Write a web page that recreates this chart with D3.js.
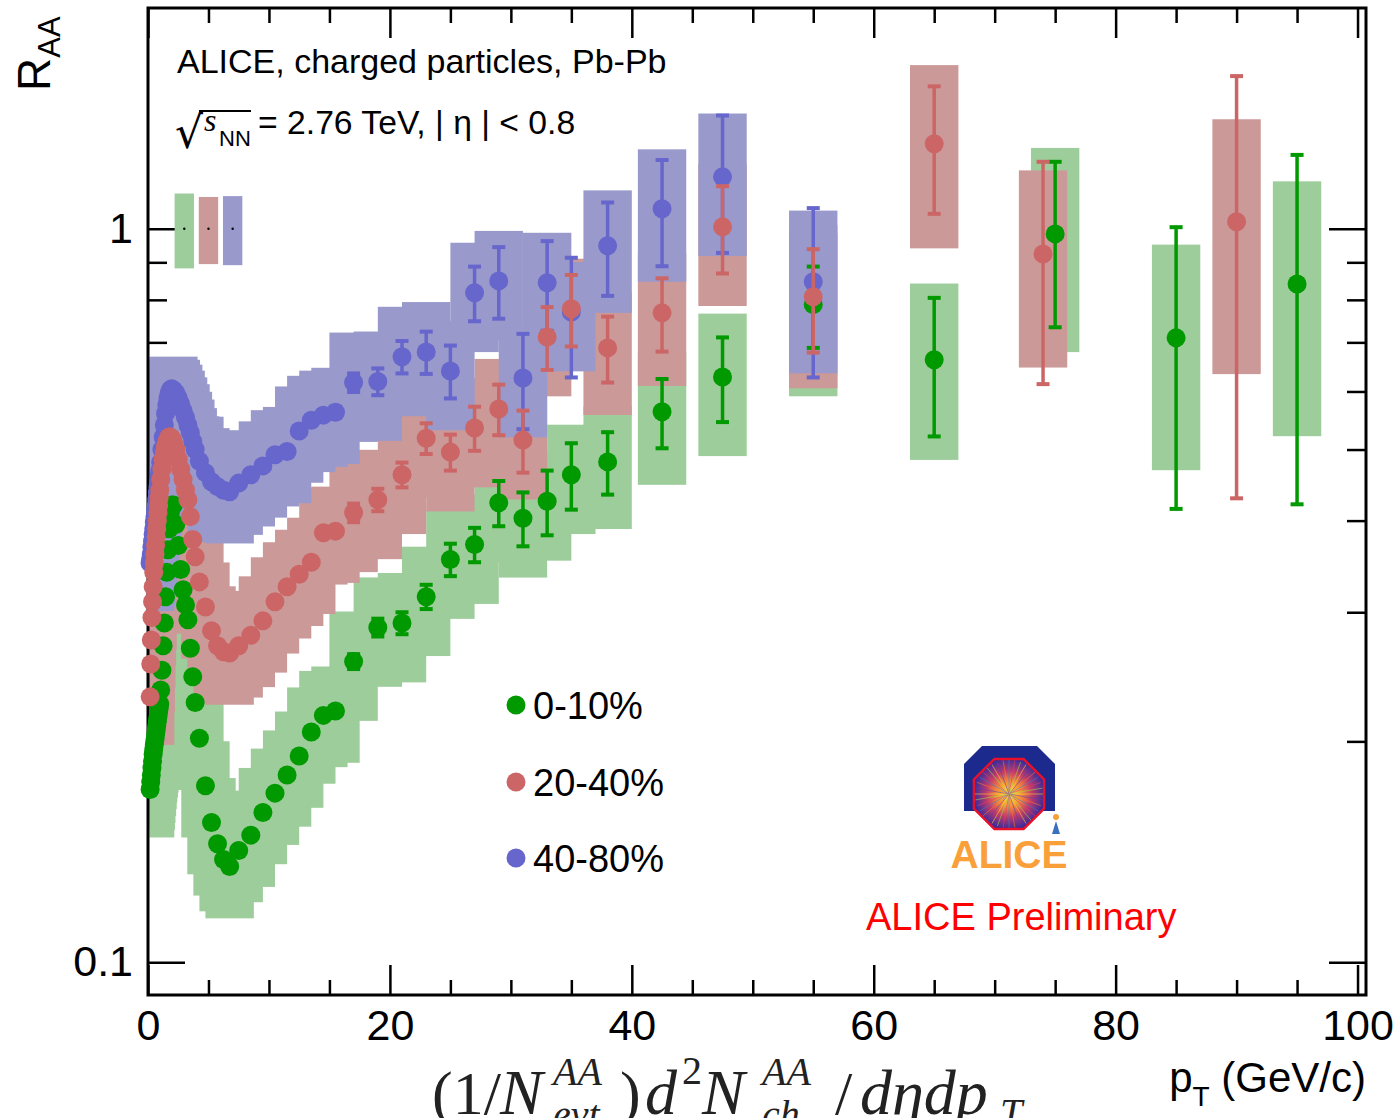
<!DOCTYPE html>
<html>
<head>
<meta charset="utf-8">
<script src="https://cdn.jsdelivr.net/npm/d3@7"></script>
<style>
body { margin: 0; background: #fff; }
</style>
</head>
<body>
<div class="chart"></div>
<script>
// pT bin centres shared by the three centralities (GeV/c)
var ptBins = [0.175, 0.225, 0.275, 0.325, 0.375, 0.425, 0.475, 0.525, 0.575, 0.625, 0.675, 0.725, 0.775, 0.825, 0.875, 0.925, 0.975,
  1.05, 1.15, 1.25, 1.35, 1.45, 1.55, 1.65, 1.75, 1.85, 1.95,
  2.1, 2.3, 2.5, 2.7, 2.9, 3.1, 3.3, 3.5, 3.7, 3.9,
  4.25, 4.75, 5.25, 5.75, 6.25, 6.75,
  7.5, 8.5, 9.5, 10.5, 11.5, 12.5, 13.5, 14.5, 15.5,
  17, 19, 21, 23, 25, 27, 29, 31, 33, 35,
  38, 42.5, 47.5, 55]

var raa_0_10 = [0.172, 0.176, 0.180, 0.184, 0.188, 0.192, 0.195, 0.198, 0.201, 0.204, 0.207, 0.210, 0.213, 0.216, 0.219, 0.222, 0.225,
  0.235, 0.250, 0.270, 0.290, 0.315, 0.340, 0.365, 0.390, 0.410, 0.420,
  0.420, 0.395, 0.370, 0.343, 0.322, 0.307, 0.293, 0.268, 0.245, 0.226,
  0.202, 0.174, 0.155, 0.145, 0.138, 0.135,
  0.142, 0.149, 0.160, 0.170, 0.180, 0.191, 0.206, 0.217, 0.220,
  0.257, 0.286, 0.290, 0.315, 0.354, 0.371, 0.423, 0.403, 0.425, 0.462,
  0.481, 0.563, 0.628, 0.788]

var raa_20_40 = [0.230, 0.255, 0.275, 0.295, 0.310, 0.325, 0.340, 0.350, 0.360, 0.370, 0.380, 0.390, 0.400, 0.410, 0.420, 0.430, 0.440,
  0.455, 0.470, 0.485, 0.495, 0.505, 0.512, 0.517, 0.520, 0.520, 0.518,
  0.512, 0.500, 0.485, 0.470, 0.455, 0.440, 0.427, 0.405, 0.377, 0.357,
  0.330, 0.305, 0.283, 0.270, 0.265, 0.264,
  0.270, 0.279, 0.292, 0.310, 0.325, 0.338, 0.351, 0.385, 0.387,
  0.410, 0.427, 0.462, 0.518, 0.496, 0.535, 0.568, 0.515, 0.712, 0.778,
  0.688, 0.768, 1.006, 0.808]

var raa_40_80 = [0.350, 0.355, 0.360, 0.368, 0.375, 0.383, 0.390, 0.398, 0.405, 0.413, 0.420, 0.428, 0.437, 0.445, 0.453, 0.460, 0.468,
  0.480, 0.500, 0.520, 0.540, 0.560, 0.575, 0.588, 0.597, 0.603, 0.605,
  0.603, 0.597, 0.588, 0.577, 0.565, 0.553, 0.540, 0.527, 0.513, 0.500,
  0.482, 0.465, 0.452, 0.445, 0.440, 0.438,
  0.450, 0.462, 0.475, 0.492, 0.497, 0.530, 0.548, 0.557, 0.562,
  0.617, 0.619, 0.669, 0.679, 0.640, 0.818, 0.849, 0.626, 0.844, 0.770,
  0.948, 1.065, 1.177, 0.847]

// statistical errors (absolute)
var stat_0_10 = [0, 0, 0, 0, 0, 0, 0, 0, 0, 0, 0, 0, 0, 0, 0, 0, 0,
  0, 0, 0, 0, 0, 0, 0, 0, 0, 0,
  0, 0, 0, 0, 0, 0, 0, 0, 0, 0,
  0, 0, 0, 0, 0, 0,
  0, 0, 0, 0, 0, 0, 0, 0, 0,
  0.006, 0.008, 0.010, 0.012, 0.018, 0.020, 0.030, 0.034, 0.043, 0.048,
  0.047, 0.061, 0.083, 0.100]

var stat_20_40 = [0, 0, 0, 0, 0, 0, 0, 0, 0, 0, 0, 0, 0, 0, 0, 0, 0,
  0, 0, 0, 0, 0, 0, 0, 0, 0, 0,
  0, 0, 0, 0, 0, 0, 0, 0, 0, 0,
  0, 0, 0, 0, 0, 0,
  0, 0, 0, 0, 0, 0, 0, 0, 0,
  0.012, 0.015, 0.018, 0.025, 0.028, 0.037, 0.045, 0.050, 0.070, 0.087,
  0.071, 0.088, 0.137, 0.130]

var stat_40_80 = [0, 0, 0, 0, 0, 0, 0, 0, 0, 0, 0, 0, 0, 0, 0, 0, 0,
  0, 0, 0, 0, 0, 0, 0, 0, 0, 0,
  0, 0, 0, 0, 0, 0, 0, 0, 0, 0,
  0, 0, 0, 0, 0, 0,
  0, 0, 0, 0, 0, 0, 0, 0, 0.010,
  0.018, 0.026, 0.034, 0.045, 0.053, 0.070, 0.095, 0.093, 0.118, 0.143,
  0.138, 0.176, 0.250, 0.220]

// relative systematic uncertainty per bin
var systFrac = [0.14, 0.14, 0.14, 0.14, 0.14, 0.14, 0.14, 0.14, 0.14, 0.14, 0.14, 0.14, 0.14, 0.14, 0.14, 0.14, 0.14,
  0.10, 0.10, 0.10, 0.10, 0.10, 0.10, 0.10, 0.10, 0.10, 0.10,
  0.11, 0.11, 0.11, 0.11, 0.11, 0.11, 0.11, 0.11, 0.11, 0.11,
  0.15, 0.15, 0.15, 0.15, 0.15, 0.15,
  0.15, 0.15, 0.15, 0.15, 0.15, 0.15, 0.15, 0.15, 0.15,
  0.17, 0.17, 0.17, 0.17, 0.17, 0.17, 0.17, 0.17, 0.17, 0.17,
  0.19, 0.205, 0.22, 0.25]

// highest pT points
var ptHigh_0_10 = [65, 75, 85, 95]
var raaHigh_0_10 = [0.663, 0.984, 0.710, 0.841]
var statHigh_0_10 = [0.142, 0.250, 0.295, 0.420]
var systHigh_0_10 = [0.27, 0.31, 0.34, 0.38]

var ptHigh_20_40 = [65, 74, 90]
var raaHigh_20_40 = [1.306, 0.924, 1.022]
var statHigh_20_40 = [0.258, 0.310, 0.593]
var systHigh_20_40 = [0.28, 0.30, 0.38]

// normalisation uncertainty around unity
var normUnc = [0.117, 0.105, 0.108]

var centralities = ['0-10%', '20-40%', '40-80%']
var markerColors = ['#009900', '#cc6666', '#6666cc']
var boxColors = ['#9dcd9a', '#cc9999', '#9999cc']

var xMajor = [0, 20, 40, 60, 80, 100]
var xMinor = [5, 10, 15, 25, 30, 35, 45, 50, 55, 65, 70, 75, 85, 90, 95]
var yMajor = [0.1, 1]
var yMinor = [0.2, 0.3, 0.4, 0.5, 0.6, 0.7, 0.8, 0.9]

function rows(pt, raa, stat, syst) {
  return pt.map(function(p, i) { return {pt: p, raa: raa[i], stat: stat[i], syst: syst[i]} })
}

var series = [
  {name: centralities[0], color: markerColors[0], box: boxColors[0],
    data: rows(ptBins.concat(ptHigh_0_10), raa_0_10.concat(raaHigh_0_10), stat_0_10.concat(statHigh_0_10), systFrac.concat(systHigh_0_10))},
  {name: centralities[1], color: markerColors[1], box: boxColors[1],
    data: rows(ptBins.concat(ptHigh_20_40), raa_20_40.concat(raaHigh_20_40), stat_20_40.concat(statHigh_20_40), systFrac.concat(systHigh_20_40))},
  {name: centralities[2], color: markerColors[2], box: boxColors[2],
    data: rows(ptBins, raa_40_80, stat_40_80, systFrac)}
]

var width = 1395,
  height = 1118,
  padL = 148, padR = 1366, padT = 8, padB = 995,
  boxHalf = 2,
  markerR = 9.5

var SANS = '"Liberation Sans", Arial, sans-serif'
var SERIF = '"Liberation Serif", "DejaVu Serif", serif'

var svg = d3.select('.chart')
  .append('svg')
  .attr('width', width)
  .attr('height', height)
  .attr('font-family', SANS)

//SCALES
var x = d3.scaleLinear().domain([0, 100.7]).range([padL, padR])
var y = d3.scaleLog().domain([0.0902, 2.0]).range([padB, padT])

//AXES (ticks inward, like ROOT)
function styleAxis(g, fs) {
  g.attr('font-family', SANS)
  g.select('.domain').remove()
  g.selectAll('.tick line').attr('stroke', '#000').attr('stroke-width', 2.5)
  g.selectAll('.tick text').attr('font-size', fs).attr('fill', '#000')
}

svg.append('g').attr('transform', 'translate(0,' + padB + ')')
  .call(d3.axisBottom(x).tickValues(xMajor).tickSize(-30).tickPadding(14).tickFormat(d3.format('d')))
  .call(styleAxis, 43)
svg.append('g').attr('transform', 'translate(0,' + padB + ')')
  .call(d3.axisBottom(x).tickValues(xMinor).tickSize(-15).tickFormat(''))
  .call(styleAxis, 0)
svg.append('g').attr('transform', 'translate(0,' + padT + ')')
  .call(d3.axisTop(x).tickValues(xMajor).tickSize(-30).tickFormat(''))
  .call(styleAxis, 0)
svg.append('g').attr('transform', 'translate(0,' + padT + ')')
  .call(d3.axisTop(x).tickValues(xMinor).tickSize(-15).tickFormat(''))
  .call(styleAxis, 0)
svg.append('g').attr('transform', 'translate(' + padL + ',0)')
  .call(d3.axisLeft(y).tickValues(yMajor).tickSize(-37).tickPadding(15).tickFormat(function(d) { return d === 1 ? '1' : '0.1' }))
  .call(styleAxis, 43)
svg.append('g').attr('transform', 'translate(' + padL + ',0)')
  .call(d3.axisLeft(y).tickValues(yMinor).tickSize(-19).tickFormat(''))
  .call(styleAxis, 0)
svg.append('g').attr('transform', 'translate(' + padR + ',0)')
  .call(d3.axisRight(y).tickValues(yMajor).tickSize(-37).tickFormat(''))
  .call(styleAxis, 0)
svg.append('g').attr('transform', 'translate(' + padR + ',0)')
  .call(d3.axisRight(y).tickValues(yMinor).tickSize(-19).tickFormat(''))
  .call(styleAxis, 0)

//SYSTEMATIC BOXES
svg.append('clipPath').attr('id', 'plotclip')
  .append('rect').attr('x', padL + 1.5).attr('y', padT + 1.5)
  .attr('width', padR - padL - 3).attr('height', padB - padT - 3)

var boxLayer = svg.append('g').attr('clip-path', 'url(#plotclip)')
series.forEach(function(s) {
  boxLayer.append('g').selectAll('rect')
    .data(s.data)
    .enter()
    .append('rect')
    .attr('x', function(d) { return x(d.pt - boxHalf) })
    .attr('width', function(d) { return x(d.pt + boxHalf) - x(d.pt - boxHalf) })
    .attr('y', function(d) { return y(d.raa * (1 + d.syst)) })
    .attr('height', function(d) { return y(d.raa * (1 - d.syst)) - y(d.raa * (1 + d.syst)) })
    .attr('fill', s.box)
})

// normalisation boxes at R = 1
var normX = [3, 5, 7]
normUnc.forEach(function(u, i) {
  svg.append('rect')
    .attr('x', x(normX[i] - 0.8)).attr('width', x(normX[i] + 0.8) - x(normX[i] - 0.8))
    .attr('y', y(1 + u)).attr('height', y(1 - u) - y(1 + u))
    .attr('fill', boxColors[i])
  svg.append('circle').attr('cx', x(normX[i])).attr('cy', y(1)).attr('r', 1.2).attr('fill', '#000')
})

//FRAME
svg.append('rect')
  .attr('x', padL).attr('y', padT)
  .attr('width', padR - padL).attr('height', padB - padT)
  .attr('fill', 'none').attr('stroke', '#000').attr('stroke-width', 3)

//POINTS (green, blue, then red on top)
var drawOrder = [0, 2, 1]
drawOrder.forEach(function(k) {
  var s = series[k]
  var g = svg.append('g')
  var withErr = s.data.filter(function(d) { return d.stat > 0 })
  g.selectAll('line.bar').data(withErr).enter().append('line')
    .attr('x1', function(d) { return x(d.pt) }).attr('x2', function(d) { return x(d.pt) })
    .attr('y1', function(d) { return y(d.raa + d.stat) }).attr('y2', function(d) { return y(d.raa - d.stat) })
    .attr('stroke', s.color).attr('stroke-width', 3.5)
  g.selectAll('line.capHi').data(withErr).enter().append('line')
    .attr('x1', function(d) { return x(d.pt) - 6.5 }).attr('x2', function(d) { return x(d.pt) + 6.5 })
    .attr('y1', function(d) { return y(d.raa + d.stat) }).attr('y2', function(d) { return y(d.raa + d.stat) })
    .attr('stroke', s.color).attr('stroke-width', 4)
  g.selectAll('line.capLo').data(withErr).enter().append('line')
    .attr('x1', function(d) { return x(d.pt) - 6.5 }).attr('x2', function(d) { return x(d.pt) + 6.5 })
    .attr('y1', function(d) { return y(d.raa - d.stat) }).attr('y2', function(d) { return y(d.raa - d.stat) })
    .attr('stroke', s.color).attr('stroke-width', 4)
  g.selectAll('circle').data(s.data).enter().append('circle')
    .attr('cx', function(d) { return x(d.pt) })
    .attr('cy', function(d) { return y(d.raa) })
    .attr('r', markerR)
    .attr('fill', s.color)
})

//TEXTS
svg.append('text').attr('x', 177).attr('y', 73).attr('font-size', 34).text('ALICE, charged particles, Pb-Pb')
svg.append('text').attr('x', 175).attr('y', 148).attr('font-size', 44)
  .attr('font-family', '"DejaVu Sans", sans-serif').text('\u221A')
svg.append('line').attr('x1', 199).attr('x2', 251).attr('y1', 111).attr('y2', 111)
  .attr('stroke', '#000').attr('stroke-width', 2)
svg.append('text').attr('x', 204).attr('y', 131).attr('font-size', 32)
  .attr('font-family', SERIF).attr('font-style', 'italic').text('s')
svg.append('text').attr('x', 219).attr('y', 146).attr('font-size', 22).text('NN')
svg.append('text').attr('x', 258).attr('y', 134).attr('font-size', 33.7).text('= 2.76 TeV, | \u03B7 | < 0.8')

// y title
var yt = svg.append('text').attr('transform', 'translate(50,91) rotate(-90)').attr('font-size', 46)
yt.append('tspan').text('R')
yt.append('tspan').attr('font-size', 31).attr('dy', 10).text('AA')

// x title
var xt = svg.append('text').attr('x', 1366).attr('y', 1092).attr('font-size', 42).attr('text-anchor', 'end')
xt.append('tspan').text('p')
xt.append('tspan').attr('font-size', 28).attr('dy', 14).text('T')
xt.append('tspan').attr('dy', -14).text(' (GeV/c)')

// stray formula cut off at the bottom edge
var fx = svg.append('g').attr('fill', '#222').attr('font-family', SERIF)
fx.append('text').attr('x', 432).attr('y', 1114).attr('font-size', 62).text('(1/')
fx.append('text').attr('x', 500).attr('y', 1114).attr('font-size', 64).attr('font-style', 'italic').text('N')
fx.append('text').attr('x', 553).attr('y', 1085).attr('font-size', 40).attr('font-style', 'italic').text('AA')
fx.append('text').attr('x', 553).attr('y', 1128).attr('font-size', 40).attr('font-style', 'italic').text('evt')
fx.append('text').attr('x', 620).attr('y', 1114).attr('font-size', 62).text(')')
fx.append('text').attr('x', 645).attr('y', 1114).attr('font-size', 64).attr('font-style', 'italic').text('d')
fx.append('text').attr('x', 682).attr('y', 1084).attr('font-size', 40).text('2')
fx.append('text').attr('x', 702).attr('y', 1114).attr('font-size', 64).attr('font-style', 'italic').text('N')
fx.append('text').attr('x', 762).attr('y', 1085).attr('font-size', 40).attr('font-style', 'italic').text('AA')
fx.append('text').attr('x', 762).attr('y', 1128).attr('font-size', 40).attr('font-style', 'italic').text('ch')
fx.append('text').attr('x', 835).attr('y', 1114).attr('font-size', 62).text('/')
fx.append('text').attr('x', 860).attr('y', 1114).attr('font-size', 64).attr('font-style', 'italic').text('d\u03B7dp')
fx.append('text').attr('x', 1000).attr('y', 1126).attr('font-size', 40).attr('font-style', 'italic').text('T')

//LEGEND
var legY = [705, 782, 858]
centralities.forEach(function(c, i) {
  svg.append('circle').attr('cx', 516).attr('cy', legY[i]).attr('r', markerR).attr('fill', markerColors[i])
  svg.append('text').attr('x', 533).attr('y', legY[i] + 14).attr('font-size', 38).text(c)
})

svg.append('text').attr('x', 866).attr('y', 930).attr('font-size', 38).attr('fill', '#ff0000').text('ALICE Preliminary')

//ALICE LOGO
var logo = svg.append('g')
var grad = svg.append('defs').append('radialGradient').attr('id', 'burst')
grad.append('stop').attr('offset', '0%').attr('stop-color', '#ffe45a')
grad.append('stop').attr('offset', '30%').attr('stop-color', '#ffa030')
grad.append('stop').attr('offset', '65%').attr('stop-color', '#c03a6a')
grad.append('stop').attr('offset', '100%').attr('stop-color', '#3b2c9a')
logo.append('polygon')
  .attr('points', '982,746 1037,746 1055,764 1055,811 964,811 964,764')
  .attr('fill', '#1b2a8c')
var cx0 = 1009, cy0 = 794, rr = 38
var oct = d3.range(8).map(function(i) {
  var a = Math.PI / 8 + i * Math.PI / 4
  return [cx0 + rr * Math.cos(a), cy0 + rr * Math.sin(a)]
})
logo.append('polygon').attr('points', oct.map(function(p) { return p.join(',') }).join(' '))
  .attr('fill', 'url(#burst)').attr('stroke', '#e8102a').attr('stroke-width', 2.5)
var rayCols = ['#ffd23a', '#5a3fb0', '#ff7a2a', '#3a7fd0', '#e04070', '#9be04a']
d3.range(36).forEach(function(i) {
  var a = i * Math.PI / 18
  logo.append('line').attr('x1', cx0).attr('y1', cy0)
    .attr('x2', cx0 + (rr - 4) * Math.cos(a)).attr('y2', cy0 + (rr - 4) * Math.sin(a))
    .attr('stroke', rayCols[i % rayCols.length]).attr('stroke-width', 0.8).attr('opacity', 0.7)
})
logo.append('circle').attr('cx', 1056).attr('cy', 817).attr('r', 3).attr('fill', '#f7a035')
logo.append('polygon').attr('points', '1056,821 1052,834 1060,834').attr('fill', '#3a70c0')
logo.append('text').attr('x', 1009).attr('y', 868).attr('text-anchor', 'middle')
  .attr('font-size', 39).attr('font-weight', 'bold').attr('fill', '#f9a03a').text('ALICE')
</script>
</body>
</html>
